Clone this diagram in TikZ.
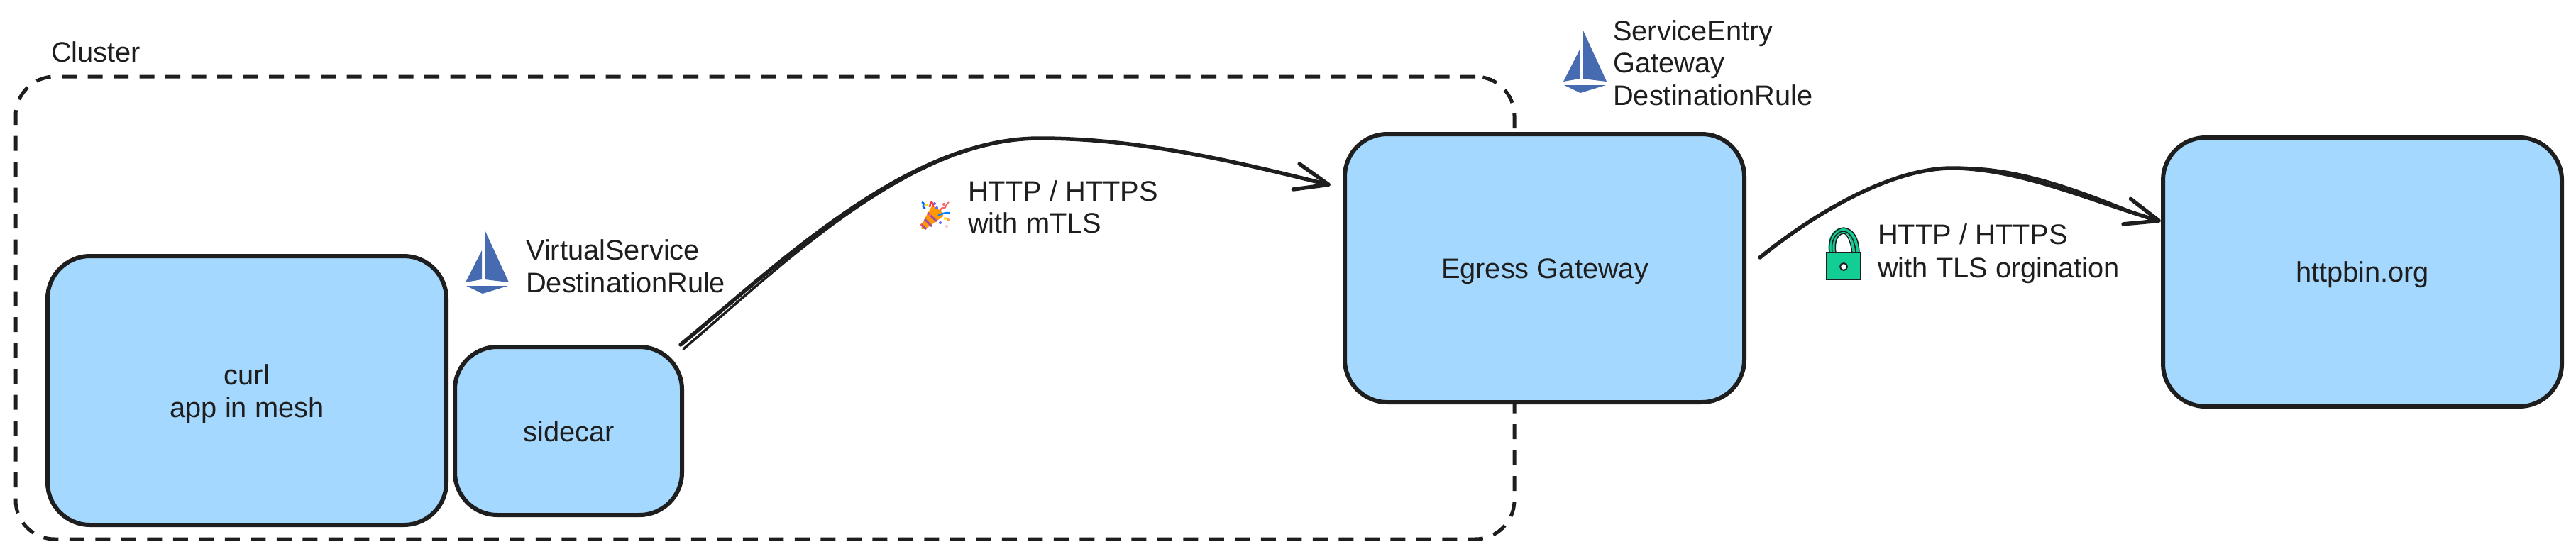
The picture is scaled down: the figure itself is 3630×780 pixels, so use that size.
\documentclass[tikz,border=0pt]{standalone}
\usepackage{fontspec}
\setmainfont{Liberation Sans}
\usetikzlibrary{arrows.meta}
\definecolor{ink}{HTML}{1E1E1E}
\definecolor{boxblue}{HTML}{A5D8FF}
\definecolor{sailblue}{HTML}{466BB0}
\definecolor{lockgreen}{HTML}{12CE95}
\tikzset{
    box/.style={draw=ink, fill=boxblue, line width=6pt, rounded corners=60pt, inner sep=0pt},
    label/.style={anchor=base west, inner sep=0pt},
    boxtext/.style={anchor=base, inner sep=0pt},
    flow/.style={draw=ink, line width=5.5pt, line cap=round, line join=round, -{Straight Barb[length=47pt,width=37pt,round]}},
    strand/.style={draw=ink, line width=3.5pt, line cap=round},
}
\begin{document}
\begin{tikzpicture}[x=1pt, y=-1pt, text=ink, font=\fontsize{39.8}{46}\selectfont]
    \useasboundingbox (0,0) rectangle (3630,780);
    % cluster outline
    \node[draw=ink, line width=5pt, dash pattern=on 21pt off 15.5pt, rounded corners=55pt, minimum width=2112pt, minimum height=652pt] (cluster) at (1078,434) {};
    \node[label] (clusterlabel) at (72,87) {Cluster};
    % boxes
    \node[box, minimum width=562pt, minimum height=379pt] (curl) at (348,550.5) {};
    \node[box, minimum width=320pt, minimum height=237pt] (sidecar) at (801,607.5) {};
    \node[box, minimum width=563pt, minimum height=378pt] (egress) at (2176.5,378) {};
    \node[box, minimum width=562pt, minimum height=379pt] (httpbin) at (3329,383.5) {};
    \node[boxtext] (curltext) at (348,542) {curl};
    \node[boxtext] (curltextb) at (348,588) {app in mesh};
    \node[boxtext] (sidecartext) at (802,622) {sidecar};
    \node[boxtext] (egresstext) at (2177,392) {Egress Gateway};
    \node[boxtext] (httpbintext) at (3329,397) {httpbin.org};
    % sails
    \foreach \dx/\dy in {0/0,1547/-283} {
        \begin{scope}[shift={(\dx,\dy)}]
            \fill[sailblue] (683,324) -- (717,398) -- (683,394) -- cycle;
            \fill[sailblue] (679,353) -- (679,394) -- (656,398) -- cycle;
            \fill[sailblue] (657,403) -- (716,403) -- (680,414) -- cycle;
        \end{scope}
    }
    \node[label] (sidecarrules) at (741,366) {VirtualService};
    \node[label] (sidecarrulesb) at (741,412) {DestinationRule};
    \node[label] (gatewayrules) at (2273,57) {ServiceEntry};
    \node[label] (gatewayrulesb) at (2273,102) {Gateway};
    \node[label] (gatewayrulesc) at (2273,148) {DestinationRule};
    % connectors
    \coordinate (peakmtls) at (1465,195);
    \coordinate (peaktls) at (2751,237);
    \draw[flow] ([xshift=-5pt]sidecar.north east) .. controls (1100,370) and (1280,195) .. (peakmtls)
        .. controls (1600,195) and (1730,225) .. ([xshift=-17pt,yshift=117pt]egress.west);
    \draw[strand] ([xshift=-1pt,yshift=-6pt]sidecar.north east) .. controls (1104,372) and (1280,197) .. (peakmtls);
    \draw[flow] ([xshift=19pt,yshift=15pt]egress.east) .. controls (2558,300) and (2665,237) .. (peaktls)
        .. controls (2845,237) and (2952,285) .. ([yshift=71.5pt]httpbin.west);
    \draw[strand] (peaktls) .. controls (2850,232) and (2957,280) .. ([xshift=-14pt,yshift=74pt]httpbin.west);
    \node[label] (mtlslabel) at (1364,283) {HTTP / HTTPS};
    \node[label] (mtlslabelb) at (1364,328) {with mTLS};
    \node[label] (tlslabel) at (2646,344) {HTTP / HTTPS};
    \node[label] (tlslabelb) at (2646,391) {with TLS orgination};
    % popper
    \fill[red!60!pink] (1299,317) circle (2pt);
    \draw[blue!60!cyan, line width=2.5pt] (1299,285) .. controls (1306,288) and (1296,290) .. (1304,294);
    \draw[red!70!pink, line width=2.5pt] (1310,292) .. controls (1312,280) and (1315,284) .. (1316,300);
    \fill[orange!80!yellow] (1299,323) .. controls (1296,320) and (1304,306) .. (1313,291)
        .. controls (1322,293) and (1330,300) .. (1329,305) .. controls (1318,312) and (1306,324) .. (1299,323) -- cycle;
    \foreach \xa/\ya/\xb/\yb in {1307/300/1320/312,1303/309/1313/319,1299/317/1305/323}
        \draw[violet!70!white, line width=3pt] (\xa,\ya) -- (\xb,\yb);
    \draw[blue!50!cyan, line width=2.5pt] (1322,304) .. controls (1326,301) and (1332,300) .. (1338,300);
    \draw[red!50!pink, line width=2pt] (1325,297) .. controls (1328,288) and (1331,298) .. (1333,290) .. controls (1334,287) and (1336,287) .. (1337,285);
    \foreach \px/\py/\pcolor in {1306/289/yellow!80!orange,1317/287/blue!60,1320/293/blue!60,1330/288/red!60,1332/308/yellow!80!orange,1336/310/orange!80,1325/314/blue!60,1334/319/pink,1310/303/red!60}
        \fill[\pcolor] (\px,\py) circle (2pt);
    % lock
    \fill[lockgreen] (2577,356) .. controls (2574,330) and (2587,320) .. (2598,321) .. controls (2612,323) and (2619,335) .. (2620,356) -- (2611,356)
        .. controls (2608,340) and (2606,328) .. (2597,328) .. controls (2590,330) and (2586,340) .. (2587,356) -- cycle;
    \draw[ink, line width=1.5pt] (2578,356) .. controls (2575,332) and (2588,322) .. (2598,321) .. controls (2612,323) and (2619,335) .. (2620,356);
    \draw[ink, line width=1.5pt] (2582,356) .. controls (2579,336) and (2590,325) .. (2599,326) .. controls (2608,328) and (2614,340) .. (2615,356);
    \draw[ink, line width=1.5pt] (2587,356) .. controls (2584,340) and (2590,330) .. (2598,329) .. controls (2604,330) and (2608,342) .. (2610,356);
    \draw[ink, fill=lockgreen, line width=2pt] (2574,356) rectangle (2622,394);
    \draw[ink, fill=white, line width=2pt] (2598,376) circle (5pt);
\end{tikzpicture}
\end{document}
